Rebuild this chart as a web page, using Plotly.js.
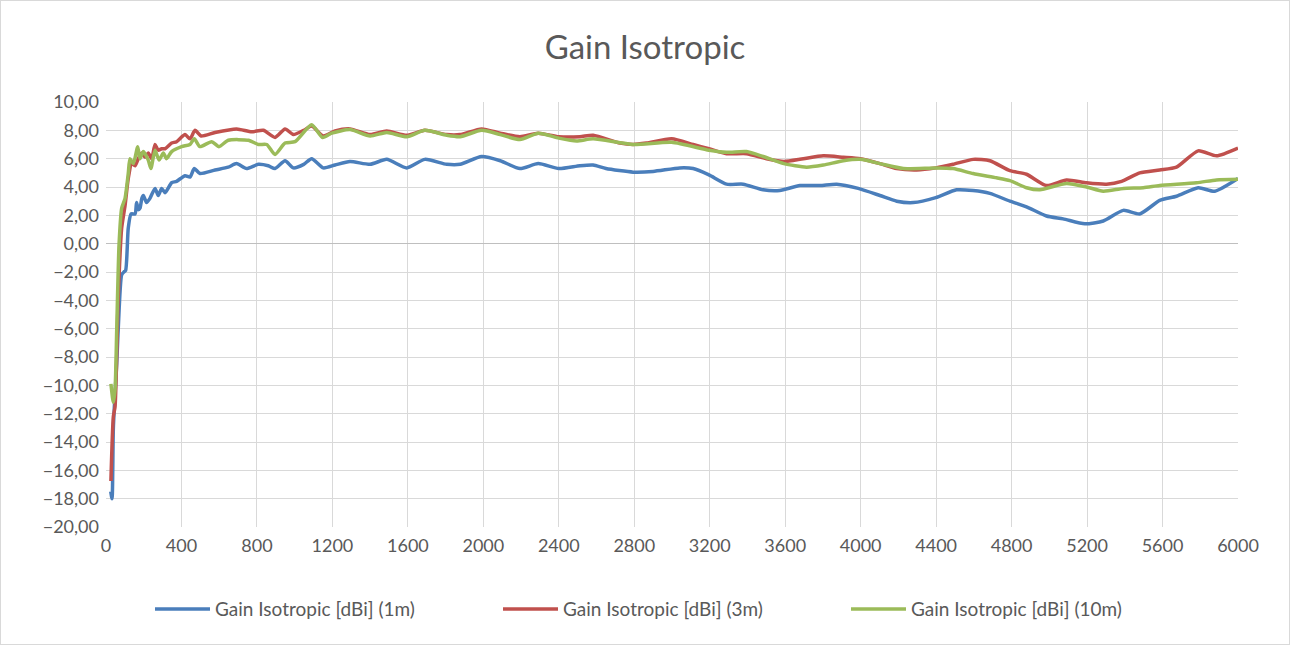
<!DOCTYPE html>
<html>
<head>
<meta charset="utf-8">
<script src="https://cdn.plot.ly/plotly-3.0.1.min.js"></script>
<style>
  html, body { margin: 0; padding: 0; background: #fff; }
  #chart { width: 1288px; height: 643px; border: 1px solid #d9d9d9; }
</style>
</head>
<body>
<div id="chart"></div>
<script>
// Frequency (MHz) and gain (dBi) per series
const freq1m = [25, 32, 39, 57, 70, 83, 95, 104, 118, 133, 154, 162, 172, 180, 190, 198, 215, 233, 260, 277, 295, 313, 348, 374, 419, 445, 468, 498, 578, 648, 692, 745, 807, 860, 896, 949, 993, 1048, 1090, 1152, 1214, 1293, 1400, 1488, 1594, 1690, 1806, 1877, 1991, 2090, 2194, 2291, 2400, 2512, 2582, 2650, 2794, 2900, 3041, 3112, 3196, 3289, 3377, 3483, 3571, 3678, 3784, 3873, 3987, 4102, 4191, 4279, 4398, 4508, 4596, 4685, 4791, 4879, 4985, 5073, 5188, 5286, 5392, 5479, 5585, 5674, 5789, 5877, 6000];
const gain1m = [-17.5, -18.0, -13.0, -8.4, -4.5, -2.2, -2.0, -1.9, 1.1, 2.1, 2.1, 2.9, 2.4, 2.5, 3.2, 3.4, 2.9, 3.2, 3.9, 3.4, 3.9, 3.6, 4.3, 4.4, 4.8, 4.7, 5.3, 4.95, 5.2, 5.4, 5.65, 5.3, 5.6, 5.5, 5.3, 5.85, 5.35, 5.6, 6.0, 5.35, 5.55, 5.8, 5.6, 5.95, 5.35, 5.95, 5.6, 5.6, 6.15, 5.85, 5.3, 5.65, 5.3, 5.5, 5.55, 5.3, 5.05, 5.1, 5.35, 5.3, 4.85, 4.2, 4.2, 3.8, 3.75, 4.1, 4.1, 4.2, 3.9, 3.4, 3.0, 2.9, 3.25, 3.8, 3.75, 3.55, 3.0, 2.6, 1.95, 1.75, 1.4, 1.6, 2.35, 2.1, 3.05, 3.35, 3.95, 3.7, 4.6];

const freq3m = [26, 39, 48, 65, 83, 101, 118, 136, 154, 171, 189, 207, 224, 242, 260, 277, 295, 313, 348, 374, 419, 445, 472, 504, 578, 692, 772, 834, 896, 949, 993, 1048, 1090, 1152, 1214, 1293, 1400, 1488, 1594, 1690, 1806, 1877, 1991, 2090, 2194, 2291, 2400, 2512, 2582, 2724, 2794, 2865, 2998, 3112, 3196, 3289, 3395, 3501, 3593, 3696, 3802, 3908, 3998, 4102, 4191, 4297, 4398, 4490, 4596, 4685, 4791, 4879, 4985, 5091, 5197, 5303, 5383, 5479, 5585, 5674, 5789, 5886, 6000];
const gain3m = [-16.75, -12.2, -11.5, -3.7, 1.1, 2.7, 4.6, 5.65, 5.5, 6.0, 6.4, 6.1, 6.4, 6.0, 7.0, 6.6, 6.7, 6.7, 7.1, 7.2, 7.7, 7.4, 8.0, 7.6, 7.85, 8.1, 7.9, 8.0, 7.5, 8.1, 7.7, 8.0, 8.3, 7.6, 7.95, 8.1, 7.7, 7.95, 7.65, 8.0, 7.7, 7.7, 8.1, 7.8, 7.55, 7.8, 7.55, 7.55, 7.65, 7.1, 7.0, 7.1, 7.4, 7.0, 6.7, 6.35, 6.35, 6.0, 5.8, 6.0, 6.2, 6.1, 6.0, 5.65, 5.3, 5.2, 5.35, 5.6, 5.95, 5.85, 5.15, 4.9, 4.1, 4.5, 4.3, 4.2, 4.4, 5.0, 5.2, 5.4, 6.55, 6.2, 6.75];

const freq10m = [26, 39, 48, 57, 69, 83, 101, 118, 127, 145, 168, 180, 198, 224, 238, 260, 281, 304, 321, 348, 401, 445, 468, 498, 560, 599, 648, 755, 807, 852, 896, 949, 1002, 1090, 1148, 1196, 1293, 1400, 1488, 1594, 1690, 1806, 1877, 1991, 2090, 2194, 2291, 2400, 2494, 2582, 2794, 2998, 3196, 3289, 3395, 3483, 3593, 3713, 3802, 3908, 3998, 4102, 4226, 4398, 4490, 4596, 4720, 4791, 4879, 4950, 5091, 5197, 5286, 5392, 5498, 5585, 5780, 5886, 6000];
const gain10m = [-9.9, -11.2, -10.3, -6.0, -0.1, 2.5, 3.2, 4.95, 6.0, 5.65, 6.85, 6.0, 6.5, 5.9, 5.3, 6.6, 5.9, 6.4, 6.0, 6.5, 6.85, 7.0, 7.4, 6.85, 7.2, 6.85, 7.3, 7.3, 7.0, 7.0, 6.3, 7.1, 7.2, 8.4, 7.5, 7.8, 8.05, 7.6, 7.85, 7.55, 8.0, 7.65, 7.55, 8.0, 7.7, 7.35, 7.8, 7.45, 7.25, 7.4, 7.0, 7.15, 6.6, 6.45, 6.5, 6.15, 5.65, 5.4, 5.55, 5.85, 5.95, 5.65, 5.3, 5.35, 5.3, 4.95, 4.65, 4.45, 3.95, 3.8, 4.25, 4.0, 3.7, 3.9, 3.95, 4.1, 4.3, 4.5, 4.55];

const seriesNames = ["Gain Isotropic [dBi] (1m)", "Gain Isotropic [dBi] (3m)", "Gain Isotropic [dBi] (10m)"];
const seriesColors = ["#4a7ebb", "#c0504d", "#9bbb59"];

const font = "Lato, 'Open Sans', sans-serif";
const xs = [freq1m, freq3m, freq10m];
const ys = [gain1m, gain3m, gain10m];

const traces = xs.map((x, i) => ({
  type: "scatter",
  mode: "lines",
  x: x,
  y: ys[i],
  name: seriesNames[i],
  line: { color: seriesColors[i], width: 3.5, shape: "spline", smoothing: 0.6 }
}));

const layout = {
  width: 1288,
  height: 643,
  separators: ",.",
  paper_bgcolor: "#ffffff",
  plot_bgcolor: "#ffffff",
  margin: { l: 105, r: 51, t: 101, b: 117 },
  font: { family: font, size: 18, color: "#595959" },
  title: {
    text: "Gain Isotropic",
    font: { family: font, size: 33, color: "#595959" },
    x: 0.5, xanchor: "center",
    y: 1 - 46 / 643, yanchor: "middle"
  },
  xaxis: {
    range: [0, 6000],
    tickmode: "linear", tick0: 0, dtick: 400,
    showgrid: true, gridcolor: "#d9d9d9", gridwidth: 1,
    zeroline: false,
    showline: false,
    ticks: "",
    tickfont: { family: font, size: 18, color: "#595959" },
    ticklabelstandoff: 6
  },
  yaxis: {
    range: [-20, 10],
    tickmode: "linear", tick0: -20, dtick: 2,
    tickformat: ".2f",
    showgrid: true, gridcolor: "#d9d9d9", gridwidth: 1,
    zeroline: true, zerolinecolor: "#bfbfbf", zerolinewidth: 1,
    showline: false,
    ticks: "",
    tickfont: { family: font, size: 18, color: "#595959" },
    ticklabelstandoff: 6
  },
  showlegend: true,
  legend: {
    orientation: "h",
    x: 0.5, xanchor: "center",
    y: -0.193, yanchor: "middle",
    font: { family: font, size: 19, color: "#595959" },
    entrywidth: 278, entrywidthmode: "pixels",
    itemwidth: 55
  }
};

Plotly.newPlot("chart", traces, layout, { displayModeBar: false, staticPlot: true });
</script>
</body>
</html>
